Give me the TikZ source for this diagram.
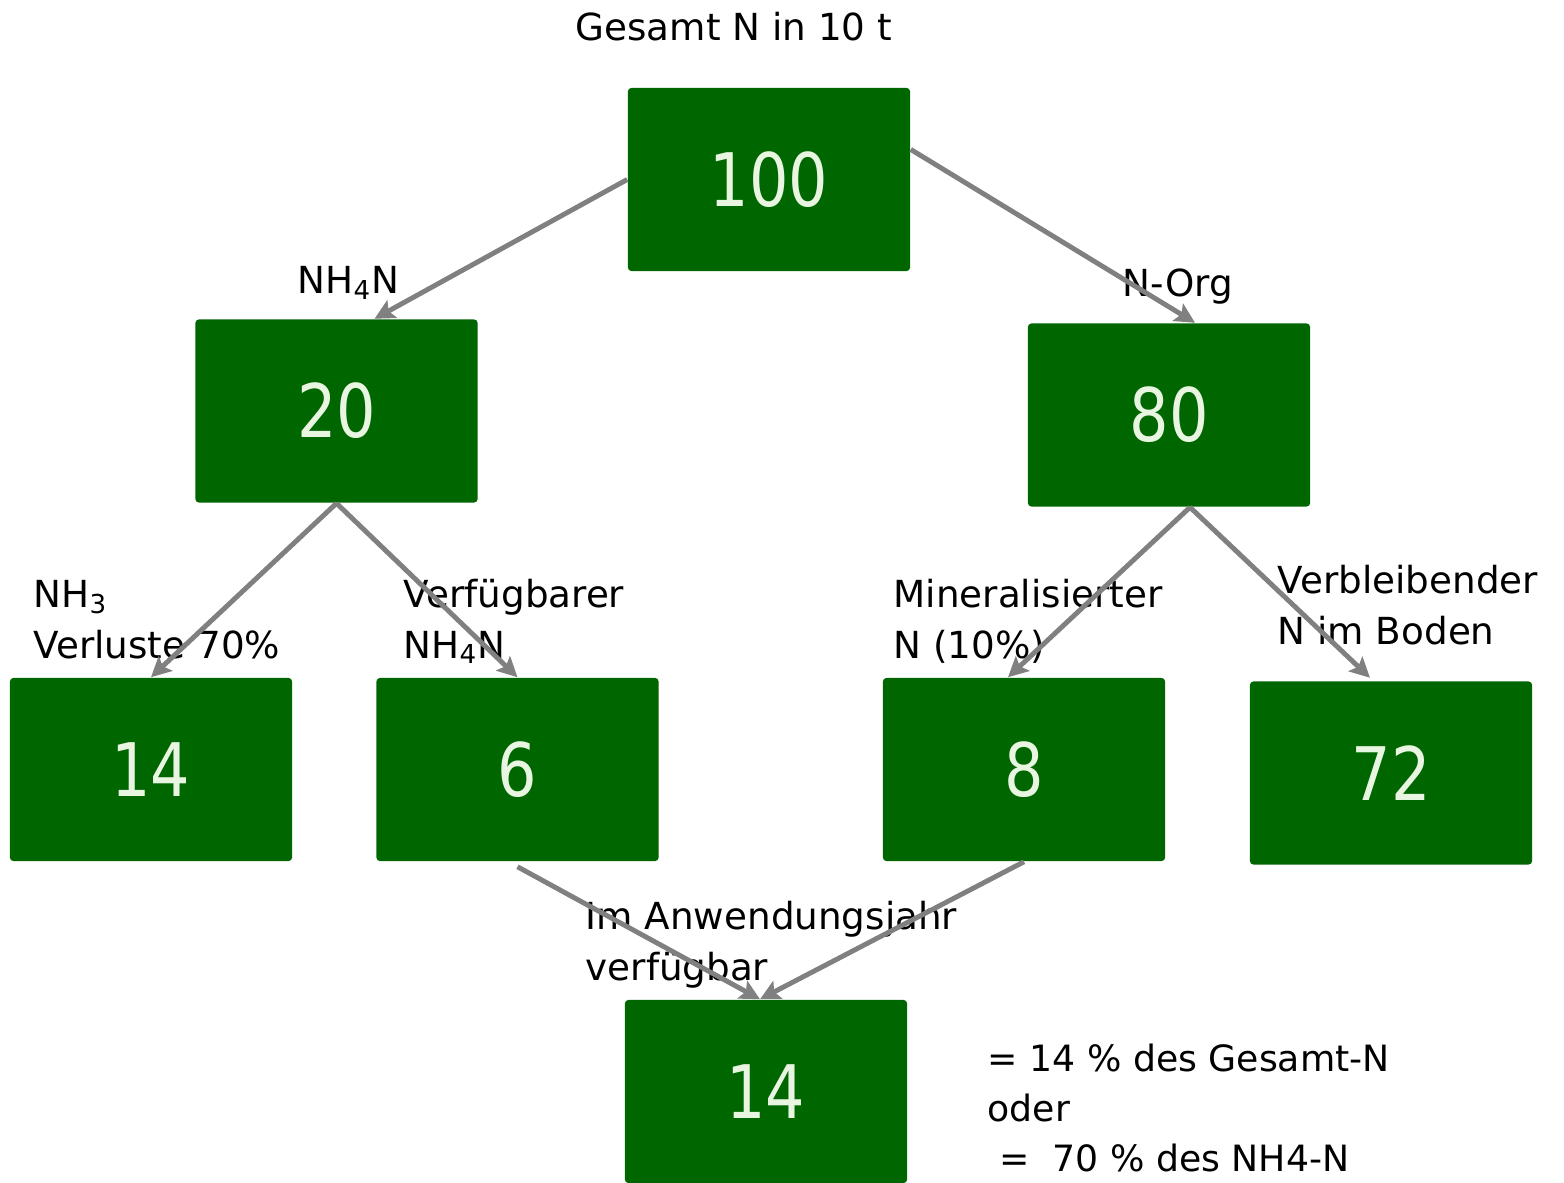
\documentclass[tikz,border=0pt]{standalone}
\usepackage{fontspec}
\setmainfont{DejaVu Sans}
\newfontfamily\zahlfont[FakeStretch=0.84]{DejaVu Sans}
\usetikzlibrary{arrows.meta,positioning}
\definecolor{boxgruen}{HTML}{006600}
\definecolor{zahlhell}{HTML}{E8F5E0}
\definecolor{pfeilgrau}{HTML}{808080}

\begin{document}
\begin{tikzpicture}[x=0.01cm, y=-0.01cm,
    every node/.style={font=\fontsize{10.6}{14.5}\selectfont},
    wert/.style={fill=boxgruen, rounded corners=1pt, minimum width=2.82cm, minimum height=1.83cm,
      inner sep=0pt, text=zahlhell, font=\zahlfont\fontsize{21}{25}\selectfont},
    lbl/.style={anchor=north west, align=left, inner sep=0pt},
    pfeil/.style={draw=pfeilgrau, line width=1.4pt, -{Stealth[length=2mm,width=2mm,inset=0.4mm]}}]
    \useasboundingbox (0,0) rectangle (1564,1182);
    % Kaesten
    \node[wert] (gesamt) at (769,179.5) {100};
    \node[wert] (nhvier) at (336.5,411) {20};
    \node[wert] (norg) at (1169,415) {80};
    \node[wert] (verlust) at (151,769.5) {14};
    \node[wert] (verfueg) at (517.5,769.5) {6};
    \node[wert] (miner) at (1024,769.5) {8};
    \node[wert] (boden) at (1391,773) {72};
    \node[wert] (jahr) at (766,1091.5) {14};
    % Beschriftungen
    \node[lbl] (titel) at (575,11) {Gesamt N in 10 t};
    \node[lbl] (lnh) at (297,266) {NH\textsubscript{4}N};
    \node[lbl] (lorg) at (1122,268) {N-Org};
    \node[lbl] (lverl) at (33,580) {NH\textsubscript{3}\\Verluste 70\%};
    \node[lbl] (lverf) at (403,578) {Verfügbarer\\NH\textsubscript{4}N};
    \node[lbl] (lmin) at (893,578) {Mineralisierter\\N (10\%)};
    \node[lbl] (lbod) at (1277,564) {Verbleibender\\N im Boden};
    \node[lbl] (ljahr) at (585,900) {Im Anwendungsjahr\\verfügbar};
    \node[lbl, font=\fontsize{10.3}{14.3}\selectfont] (lerg) at (987,1043)
      {= 14 \% des Gesamt-N\\oder\\\ =\ \ 70 \% des NH4-N};
    % Pfeile
    \draw[pfeil] (gesamt.west) -- ([xshift=0.38cm]nhvier.north);
    \draw[pfeil] ([yshift=0.3cm]gesamt.east) -- ([xshift=0.26cm]norg.north);
    \draw[pfeil] (nhvier.south) -- (verlust.north);
    \draw[pfeil] (nhvier.south) -- (verfueg.north);
    \draw[pfeil] ([xshift=0.21cm]norg.south) -- ([xshift=-0.16cm]miner.north);
    \draw[pfeil] ([xshift=0.21cm]norg.south) -- ([xshift=-0.21cm,yshift=0.03cm]boden.north);
    \draw[pfeil] ([yshift=-0.05cm]verfueg.south) -- ([xshift=-0.06cm]jahr.north);
    \draw[pfeil] (miner.south) -- ([xshift=-0.06cm]jahr.north);
\end{tikzpicture}
\end{document}
